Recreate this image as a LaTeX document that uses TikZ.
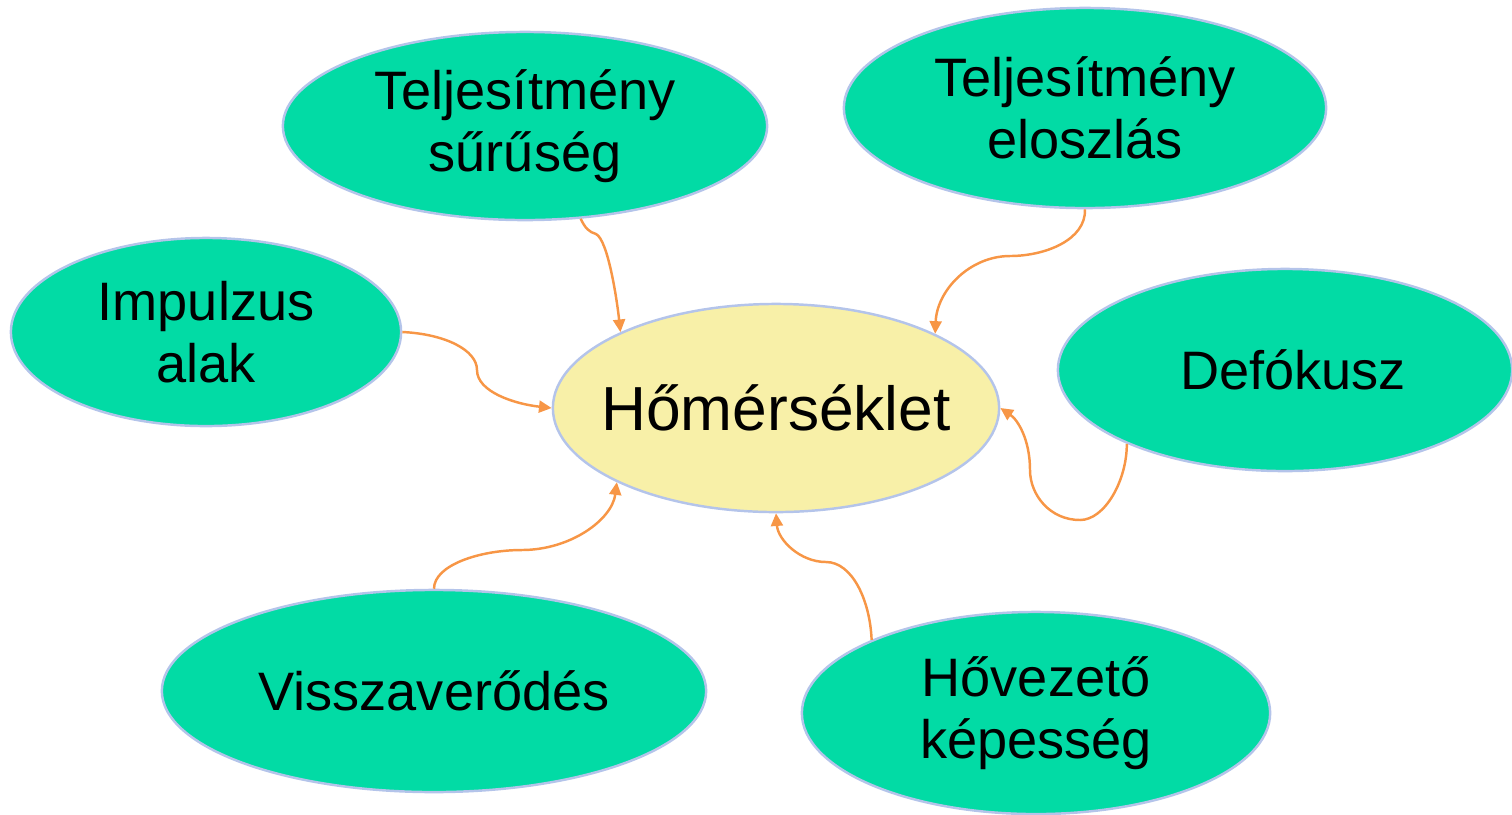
\documentclass[tikz,border=0pt]{standalone}
\usepackage{fontspec}
\setmainfont{Liberation Sans}
\usetikzlibrary{shapes.geometric,arrows.meta}
\definecolor{blobgreen}{HTML}{02DBA5}
\definecolor{blobyellow}{HTML}{F8F0A8}
\definecolor{blobline}{HTML}{B4C4EA}
\definecolor{linkorange}{HTML}{F79646}
\begin{document}
\begin{tikzpicture}[x=0.01cm,y=-0.01cm,
    blob/.style={ellipse,draw=blobline,line width=0.7pt,fill=blobgreen,inner sep=0pt,
        align=center,font=\fontsize{15.4}{17.6}\selectfont},
    link/.style={draw=linkorange,line width=0.7pt,-{Triangle[length=3.6pt,width=3.4pt]}}]
        \useasboundingbox (0,0) rectangle (1512,814);
        \node[blob,fill=blobyellow,minimum width=4.46cm,minimum height=2.08cm,
            font=\fontsize{17.7}{20}\selectfont] (hom) at (776,408) {\makebox[0pt]{Hőmérséklet}};
        \node[blob,minimum width=4.84cm,minimum height=1.88cm] (sur) at (525,126) {Teljesítmény\\sűrűség};
        \node[blob,minimum width=4.82cm,minimum height=2cm] (elo) at (1085,108) {Teljesítmény\\eloszlás};
        \node[blob,minimum width=3.9cm,minimum height=1.88cm] (imp) at (206,332) {Impulzus\\alak};
        \node[blob,minimum width=4.54cm,minimum height=2.02cm] (def) at (1285,370) {\makebox[0pt]{\hspace{4.6pt}Defókusz}};
        \node[blob,minimum width=5.44cm,minimum height=2.02cm] (vis) at (434,691) {\makebox[0pt]{Visszaverődés}};
        \node[blob,minimum width=4.68cm,minimum height=2.02cm] (hov) at (1036,713) {Hővezető\\képesség};
        \draw[link] (sur.-59) .. controls (585,228) and (589,232) .. (596,234)
            .. controls (608,240) and (617,300) .. (hom.154.6);
        \draw[link] (elo.south) .. controls (1086,240) and (1045,256) .. (1010,256)
            .. controls (970,256) and (937,290) .. (hom.25.4);
        \draw[link] (imp.east) .. controls (445,334) and (477,350) .. (477,370)
            .. controls (477,392) and (515,404) .. (hom.west);
        \draw[link] (def.-155.5) .. controls (1127,480) and (1105,520) .. (1080,520)
            .. controls (1050,520) and (1030,495) .. (1030,470)
            .. controls (1030,440) and (1018,420) .. (hom.east);
        \draw[link] (vis.north) .. controls (434,565) and (480,550) .. (522,550)
            .. controls (570,550) and (612,520) .. (hom.205.4);
        \draw[link] (hov.156.1) .. controls (870,600) and (852,562) .. (826,562)
            .. controls (800,562) and (778,540) .. (hom.south);
    \end{tikzpicture}
\end{document}
